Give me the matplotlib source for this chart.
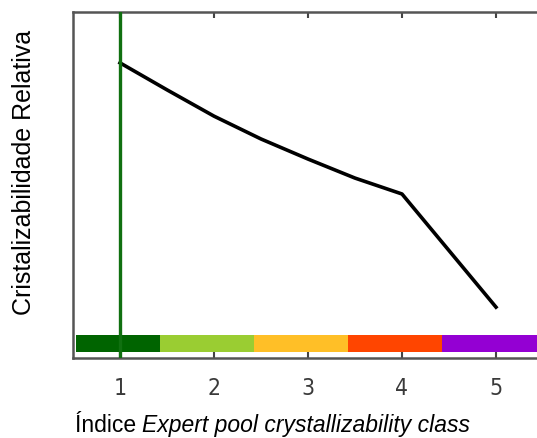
import matplotlib
matplotlib.use("Agg")
import numpy as np
from matplotlib import pyplot as plt

# valores
classe_x = [1.0, 1.5, 2.0, 2.5, 3.0, 3.5, 4.0, 5.0]
cristalizabilidade = [0.853, 0.775, 0.699, 0.633, 0.575, 0.520, 0.474, 0.147]

# faixas de cor das classes
faixa_inicio = [0.53, 1.43, 2.43, 3.43, 4.43]
faixa_fim = [1.43, 2.43, 3.43, 4.43, 6.0]
faixa_cores = ["#006400", "#9acd32", "#ffbf27", "#ff4500", "#9400d3"]

ticks = [1, 2, 3, 4, 5]

fig = plt.figure(figsize=(5.37, 4.39), dpi=100)
ax = fig.add_axes([73 / 537, 80 / 439, 517 / 537, 346 / 439])

larguras = np.array(faixa_fim) - np.array(faixa_inicio)
ax.barh(0.042, larguras, left=faixa_inicio, height=0.05, color=faixa_cores, zorder=2)

ax.plot(classe_x, cristalizabilidade, color="black", lw=2.6, zorder=3)
ax.axvline(1, color="#107010", lw=2.4, zorder=4)

ax.set_xlim(0.5, 6.0)
ax.set_ylim(0, 1)
ax.set_xticks(ticks)
ax.set_yticks([])
ax.tick_params(axis="x", direction="in", length=4, width=1.5, color="#444444",
               top=True, labelsize=16.5, labelcolor="#3a3a3a", pad=13)
for lbl in ax.get_xticklabels():
    lbl.set_fontstretch("condensed")
for s in ax.spines.values():
    s.set_color("#555555")
    s.set_linewidth(1.8)

fig.text(24 / 537, 1 - 172 / 439, "Cristalizabilidade Relativa", rotation=90,
         ha="center", va="center", family="Liberation Sans", fontsize=18)
t1 = fig.text(75 / 537, 7 / 439, "Índice ", ha="left", va="baseline",
              family="Liberation Sans", fontsize=16.5)
ax.annotate("Expert pool crystallizability class", xy=(1, 0), xycoords=t1,
            ha="left", va="bottom", family="Liberation Sans", style="italic", fontsize=16.5)

fig.savefig("out.png", dpi=100)
